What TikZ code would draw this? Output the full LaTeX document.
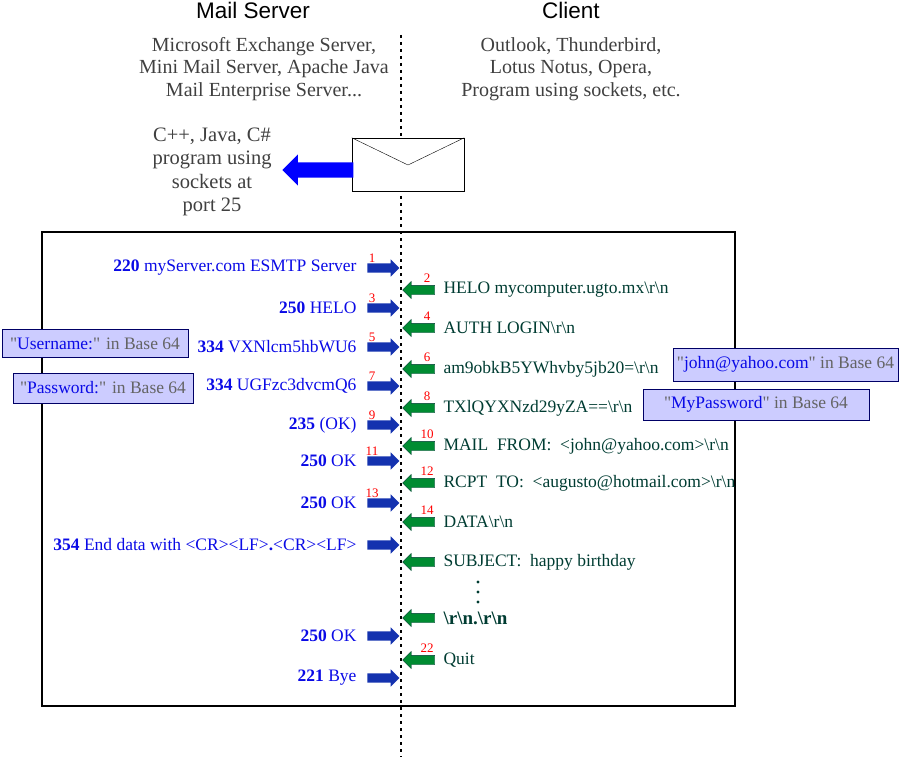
\documentclass[tikz,border=0pt]{standalone}
\usepackage{fontspec}
\setmainfont{Liberation Serif}
\setsansfont{Liberation Sans}
\usetikzlibrary{shapes.arrows}
\definecolor{srvblue}{RGB}{10,10,230}
\definecolor{srvarrow}{RGB}{20,50,175}
\definecolor{cligreen}{RGB}{0,140,50}
\definecolor{clitext}{RGB}{0,60,50}
\definecolor{notefill}{RGB}{204,204,255}
\definecolor{notegray}{RGB}{100,100,100}
\newcommand{\qq}{\textquotedbl}
\begin{document}
\begin{tikzpicture}[x=1pt,y=-1pt]
    \tikzset{
    srv/.style={single arrow,fill=srvarrow,text height=7pt,text depth=0pt,text width=0pt,inner sep=1pt,single arrow head extend=4pt,single arrow head indent=0pt,minimum height=32pt},
    cli/.style={srv,shape border rotate=180,fill=cligreen,draw=clitext,line width=0.3pt,single arrow head indent=0pt},
    srvtxt/.style={anchor=east,text=srvblue,font=\fontsize{17.5}{19}\selectfont},
    clitxt/.style={anchor=west,text=clitext,font=\fontsize{17.5}{19}\selectfont},
    num/.style={text=red,font=\fontsize{13}{14}\selectfont,inner sep=0pt},
    note/.style={draw=blue!40!black,fill=notefill,minimum height=28pt,inner xsep=4pt,font=\fontsize{17.5}{19}\selectfont,text=notegray},
    head/.style={font=\sffamily\fontsize{22.5}{24}\selectfont},
    sub/.style={align=center,font=\fontsize{20}{22.5}\selectfont,text=black!75},
    }
    \useasboundingbox (0,0) rectangle (900,757);
    % headings
    \node[head] (hs) at (253,10) {Mail Server};
    \node[head] (hc) at (571,10) {Client};
    \node[sub] (ss) at (264,69) {Microsoft Exchange Server,\\Mini Mail Server, Apache Java\\Mail Enterprise Server...};
    \node[sub] (sc) at (571,69) {Outlook, Thunderbird,\\Lotus Notus, Opera,\\Program using sockets, etc.};
    \node[sub,font=\fontsize{20.5}{23.5}\selectfont] (prog) at (212,172) {C++, Java, C\#\\program using\\sockets at\\port 25};
    % dotted middle line and frame
    \coordinate (top) at (401,35);
    \coordinate (bot) at (401,757);
    \draw[line width=2pt,dash pattern=on 3pt off 4pt] (top) -- (bot);
    \draw[line width=1.5pt] (42,232) rectangle (735,706);
    % envelope
    \node[draw,fill=white,minimum width=112pt,minimum height=53pt,inner sep=0pt] (env) at (408,164.5) {};
    \draw (env.north west) -- (408,165) -- (env.north east);
    \node[single arrow,shape border rotate=180,fill=blue,text height=13pt,text depth=0pt,text width=0pt,inner sep=1pt,single arrow head extend=8pt,single arrow head indent=0pt,minimum height=71pt,anchor=tip] (big) at (282,170) {};
    % server replies
    \foreach \y/\n/\t in {268/1/{\textbf{220} myServer.com ESMTP Server},308/3/{\textbf{250} HELO},347/5/{\textbf{334} VXNlcm5hbWU6},386/7/{\textbf{334} UGFzc3dvcmQ6},425/9/{\textbf{235} (OK)},461/11/{\textbf{250} OK},503/13/{\textbf{250} OK},545//{\textbf{354} End data with <CR><LF>\textbf{.}<CR><LF>},636//{\textbf{250} OK},678//{\textbf{221} Bye}}{
        \node[srv] (s\y) at (381,\y) {};
        \node[srvtxt] (st\y) at (360,\y) {\t};
        \node[num] (sn\y) at (372,\y-10) {\n};
    }
    % client commands
    \foreach \y/\n/\t in {290/2/{HELO mycomputer.ugto.mx\textbackslash r\textbackslash n},328/4/{AUTH LOGIN\textbackslash r\textbackslash n},369/6/{am9obkB5YWhvby5jb20=\textbackslash r\textbackslash n},408/8/{TXlQYXNzd29yZA==\textbackslash r\textbackslash n},446/10/{MAIL\ \ FROM:\ \ <john@yahoo.com>\textbackslash r\textbackslash n},483/12/{RCPT\ \ TO:\ \ <augusto@hotmail.com>\textbackslash r\textbackslash n},522/14/{DATA\textbackslash r\textbackslash n},562//{SUBJECT:\ \ happy birthday},618//{\fontsize{19}{20}\selectfont\bfseries\textbackslash r\textbackslash n.\textbackslash r\textbackslash n},660/22/{Quit}}{
        \node[cli] (c\y) at (421,\y) {};
        \node[clitxt] (ct\y) at (440,\y) {\t};
        \node[num] (cn\y) at (427,\y-12) {\n};
    }
    \foreach \y in {582,592,602}{
        \fill[clitext] (478,\y) circle (1.6pt);
    }
    % notes
    \node[note,minimum width=186pt] (nu) at (95,343.5) {\qq\textcolor{srvblue}{Username:}\qq{} in Base 64};
    \node[note,minimum width=180pt,minimum height=30pt] (np) at (103,388) {\qq\textcolor{srvblue}{Password:}\qq{} in Base 64};
    \node[note,minimum width=225pt,minimum height=33pt] (nj) at (785.5,364.5) {\qq\textcolor{srvblue}{john@yahoo.com}\qq{} in Base 64};
    \node[note,minimum height=31pt,minimum width=226pt] (nm) at (756,404.5) {\qq\textcolor{srvblue}{MyPassword}\qq{} in Base 64};
\end{tikzpicture}
\end{document}
